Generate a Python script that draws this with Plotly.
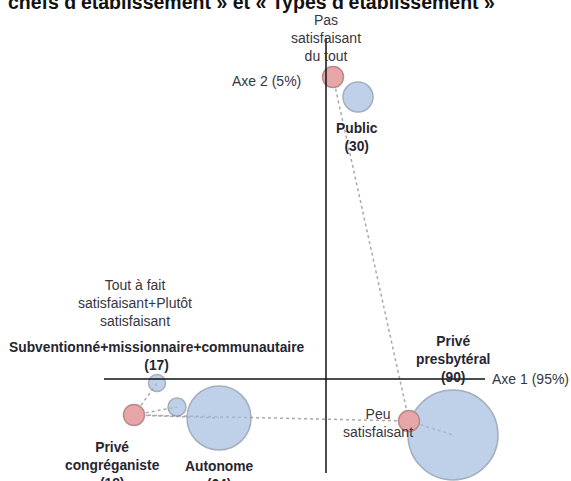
import plotly.graph_objects as go

# coordonnées factorielles (axe 1, axe 2)
modalites = ["Pas satisfaisant du tout", "Peu satisfaisant",
             "Tout à fait satisfaisant+Plutôt satisfaisant"]
mod_x = [0.035, 0.415, -0.96]
mod_y = [1.51, -0.21, -0.18]

types = ["Public", "Subventionné+missionnaire+communautaire", "Privé congréganiste",
         "Autonome", "Privé presbytéral"]
effectifs = [30, 17, 18, 64, 90]
types_x = [0.16, -0.845, -0.745, -0.535, 0.635]
types_y = [1.41, -0.02, -0.14, -0.195, -0.28]

# liaisons en pointillé (modalité -> modalité / type)
liens = [("Pas satisfaisant du tout", "Peu satisfaisant"),
         ("Peu satisfaisant", "Privé presbytéral"),
         ("Peu satisfaisant", "Tout à fait satisfaisant+Plutôt satisfaisant"),
         ("Tout à fait satisfaisant+Plutôt satisfaisant", "Subventionné+missionnaire+communautaire"),
         ("Tout à fait satisfaisant+Plutôt satisfaisant", "Privé congréganiste"),
         ("Tout à fait satisfaisant+Plutôt satisfaisant", "Autonome")]

pos = {n: (x, y) for n, x, y in zip(modalites, mod_x, mod_y)}
pos.update({n: (x, y) for n, x, y in zip(types, types_x, types_y)})

fig = go.Figure()

for a, b in liens:
    fig.add_trace(go.Scatter(x=[pos[a][0], pos[b][0]], y=[pos[a][1], pos[b][1]],
                             mode="lines", hoverinfo="skip", showlegend=False,
                             line=dict(color="#a9a9a9", width=1.5, dash="dot")))

fig.add_trace(go.Scatter(x=types_x, y=types_y, mode="markers", text=types,
                         showlegend=False,
                         marker=dict(size=effectifs, sizemode="diameter",
                                     color="#a4bde0",
                                     line=dict(color="#7d8ea3", width=1.5))))
fig.add_trace(go.Scatter(x=mod_x, y=mod_y, mode="markers", text=modalites,
                         showlegend=False,
                         marker=dict(size=21, color="#e7a5a8",
                                     line=dict(color="#b98a8c", width=1.5))))

# étiquettes : (nom, texte, gras, décalage x, décalage y)
etiquettes = [
    ("Pas satisfaisant du tout", "Pas<br>satisfaisant<br>du tout", False, -7, 39),
    ("Peu satisfaisant", "Peu<br>satisfaisant", False, -31, -2),
    ("Tout à fait satisfaisant+Plutôt satisfaisant",
     "Tout à fait<br>satisfaisant+Plutôt<br>satisfaisant", False, 1, 112),
    ("Public", "Public<br>(30)", True, -1, -40),
    ("Subventionné+missionnaire+communautaire",
     "Subventionné+missionnaire+communautaire<br>(17)", True, 0, 27),
    ("Privé congréganiste", "Privé<br>congréganiste<br>(18)", True, -65, -58),
    ("Autonome", "Autonome<br>(64)", True, 0, -57),
    ("Privé presbytéral", "Privé<br>presbytéral<br>(90)", True, 0, 76),
]
for nom, txt, gras, dx, dy in etiquettes:
    fig.add_annotation(x=pos[nom][0], y=pos[nom][1], text=f"<b>{txt}</b>" if gras else txt,
                       showarrow=False, xshift=dx, yshift=dy,
                       xanchor="center", yanchor="middle",
                       font=dict(size=13.8 if gras else 14, color="#262630" if gras else "#363644"))

# axes factoriels
fig.add_shape(type="line", x0=-1.11, x1=0.795, y0=0, y1=0,
              line=dict(color="#111111", width=1.5))
fig.add_shape(type="line", x0=0, x1=0, y0=-0.47, y1=1.705,
              line=dict(color="#111111", width=1.5))
fig.add_annotation(x=0.795, y=0, text="Axe 1 (95%)", showarrow=False,
                   xanchor="left", yanchor="middle", xshift=5,
                   font=dict(size=14, color="#363644"))
fig.add_annotation(x=0, y=pos["Pas satisfaisant du tout"][1], text="Axe 2 (5%)",
                   showarrow=False, xanchor="right", yanchor="middle",
                   xshift=-23, yshift=-4,
                   font=dict(size=14, color="#363644"))

fig.add_annotation(x=0.44, xref="paper", y=1, yref="paper", yanchor="bottom",
                   yshift=-15, showarrow=False,
                   text="<b>chefs d'établissement » et « Types d'établissement »</b>",
                   font=dict(size=19.5, color="#111111"))

fig.update_layout(width=571, height=481, margin=dict(l=0, r=0, t=0, b=0),
                  paper_bgcolor="white", plot_bgcolor="white",
                  font=dict(family="Liberation Sans, Arial, sans-serif"),
                  xaxis=dict(range=[-1.63, 1.225], visible=False),
                  yaxis=dict(range=[-0.51, 1.895], visible=False))

fig.write_html("out.html", config={"displayModeBar": False},
               post_script="document.body.style.margin = '0';")
